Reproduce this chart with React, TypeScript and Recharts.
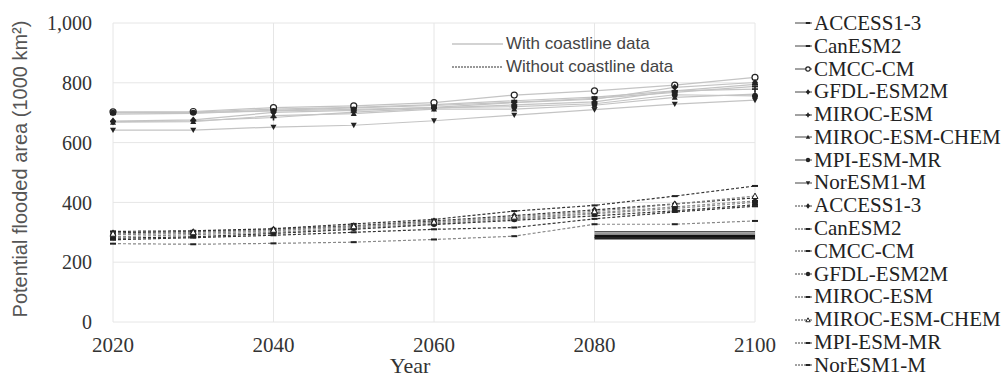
import { LineChart, Line, XAxis, YAxis, CartesianGrid } from 'recharts';

const years = [2020, 2030, 2040, 2050, 2060, 2070, 2080, 2090, 2100];
const models = ['ACCESS1-3', 'CanESM2', 'CMCC-CM', 'GFDL-ESM2M', 'MIROC-ESM', 'MIROC-ESM-CHEM', 'MPI-ESM-MR', 'NorESM1-M'];
const yTicks = [0, 200, 400, 600, 800, 1000];
const xTicks = [2020, 2040, 2060, 2080, 2100];

// with coastline data (solid)
const accessWith = [700, 702, 712, 718, 727, 740, 752, 773, 795];
const canesmWith = [695, 698, 708, 716, 724, 735, 748, 768, 788];
const cmccWith = [703, 704, 717, 723, 734, 759, 773, 792, 818];
const gfdlWith = [672, 676, 701, 708, 718, 734, 745, 785, 801];
const mirocWith = [670, 673, 684, 702, 715, 726, 736, 773, 779];
const mirocChemWith = [668, 670, 690, 697, 712, 712, 725, 751, 762];
const mpiWith = [700, 700, 706, 711, 717, 720, 730, 760, 756];
const norWith = [642, 642, 652, 658, 673, 692, 710, 729, 742];

// without coastline data (dashed)
const accessWithout = [298, 302, 310, 322, 338, 356, 375, 395, 415];
const canesmWithout = [292, 296, 305, 318, 332, 348, 365, 385, 405];
const cmccWithout = [303, 305, 312, 328, 343, 371, 390, 421, 455];
const gfdlWithout = [285, 292, 300, 314, 328, 344, 362, 380, 400];
const mirocWithout = [280, 285, 296, 310, 326, 340, 355, 372, 392];
const mirocChemWithout = [295, 300, 308, 320, 335, 352, 370, 394, 421];
const mpiWithout = [275, 282, 290, 300, 310, 316, 345, 368, 387];
const norWithout = [262, 260, 263, 267, 276, 287, 327, 327, 338];

// stray flat strokes between 2080 and 2100
const band1 = [null, null, null, null, null, null, 302, 302, 302];
const band2 = [null, null, null, null, null, null, 295, 295, 295];
const band3 = [null, null, null, null, null, null, 287, 287, 287];
const band4 = [null, null, null, null, null, null, 280, 280, 280];

const withSeries = [accessWith, canesmWith, cmccWith, gfdlWith, mirocWith, mirocChemWith, mpiWith, norWith];
const withoutSeries = [accessWithout, canesmWithout, cmccWithout, gfdlWithout, mirocWithout, mirocChemWithout, mpiWithout, norWithout];
const bands = [band1, band2, band3, band4];

const withShapes = ['dash', 'dash', 'circleOpen', 'diamond', 'plus', 'triangle', 'circle', 'triangleDown'];
const withoutShapes = ['diamond', 'dash', 'dash', 'circle', 'dash', 'triangleOpen', 'dash', 'dash'];

const bandStyles = [
  { stroke: '#555', width: 1.5 },
  { stroke: '#999', width: 2 },
  { stroke: '#111', width: 3 },
  { stroke: '#222', width: 2.5 },
];

const data = years.map((year, i) => {
  const row: any = { year };
  withSeries.forEach((s, k) => (row['w' + k] = s[i]));
  withoutSeries.forEach((s, k) => (row['n' + k] = s[i]));
  bands.forEach((s, k) => (row['b' + k] = s[i]));
  return row;
});

const DOT = '#222';

function Marker({ shape, x, y, r = 3 }: { shape: string; x: number; y: number; r?: number }) {
  switch (shape) {
    case 'dash':
      return <line x1={x - r} x2={x + r} y1={y} y2={y} stroke={DOT} strokeWidth={2} />;
    case 'circleOpen':
      return <circle cx={x} cy={y} r={r} fill="#fff" stroke={DOT} strokeWidth={1.2} />;
    case 'circle':
      return <circle cx={x} cy={y} r={r} fill={DOT} />;
    case 'diamond':
      return <polygon points={`${x},${y - r - 0.5} ${x + r},${y} ${x},${y + r + 0.5} ${x - r},${y}`} fill={DOT} />;
    case 'plus':
      return (
        <g stroke={DOT} strokeWidth={1.6}>
          <line x1={x - r} x2={x + r} y1={y} y2={y} />
          <line x1={x} x2={x} y1={y - r} y2={y + r} />
        </g>
      );
    case 'triangle':
      return <polygon points={`${x},${y - r} ${x + r},${y + r * 0.8} ${x - r},${y + r * 0.8}`} fill={DOT} />;
    case 'triangleOpen':
      return <polygon points={`${x},${y - r} ${x + r},${y + r * 0.8} ${x - r},${y + r * 0.8}`} fill="#fff" stroke={DOT} strokeWidth={1} />;
    case 'triangleDown':
      return <polygon points={`${x},${y + r} ${x + r},${y - r * 0.8} ${x - r},${y - r * 0.8}`} fill={DOT} />;
    default:
      return null;
  }
}

const makeDot = (shape: string) => (props: any) => {
  const { cx, cy, index, value } = props;
  if (cx == null || cy == null || value == null) return <g key={index} />;
  return (
    <g key={index}>
      <Marker shape={shape} x={cx} y={cy} />
    </g>
  );
};

const serif = '"Liberation Serif", "Times New Roman", serif';
const sans = '"Liberation Sans", Arial, sans-serif';

function LegendIcon({ shape, dashed }: { shape: string; dashed: boolean }) {
  return (
    <svg width={19} height={10} style={{ display: 'block' }}>
      <line x1={0} x2={17} y1={5} y2={5} stroke="#444" strokeWidth={1} strokeDasharray={dashed ? '2 1' : undefined} />
      <Marker shape={shape} x={13} y={5} r={2.2} />
    </svg>
  );
}

const legendItems = [
  ...models.map((m, i) => ({ name: m, shape: withShapes[i], dashed: false })),
  ...models.map((m, i) => ({ name: m, shape: withoutShapes[i], dashed: true })),
];

export default function App() {
  return (
    <div style={{ position: 'absolute', left: 0, top: 0, width: 1007, height: 379, background: '#fff', overflow: 'hidden' }}>
      <LineChart width={780} height={379} data={data} margin={{ top: 23, right: 25, left: 0, bottom: 20 }}>
        <CartesianGrid stroke="#e6e6e6" strokeWidth={1} />
        <XAxis
          dataKey="year"
          type="number"
          domain={[2020, 2100]}
          ticks={xTicks}
          axisLine={false}
          tickLine={false}
          tickSize={6}
          tickMargin={9}
          height={37}
          tick={{ fill: '#333', fontFamily: serif, fontSize: 21 }}
          label={{
            content: () => (
              <text x={410} y={373} textAnchor="middle" fill="#333" fontFamily={serif} fontSize={22}>
                Year
              </text>
            ),
          }}
        />
        <YAxis
          type="number"
          domain={[0, 1000]}
          ticks={yTicks}
          width={113}
          axisLine={false}
          tickLine={false}
          tickSize={6}
          tickMargin={15}
          tickFormatter={(v: number) => v.toLocaleString('en-US')}
          tick={{ fill: '#333', fontFamily: serif, fontSize: 20 }}
          label={{
            content: () => (
              <text
                transform="translate(20,169) rotate(-90)"
                textAnchor="middle"
                dominantBaseline="central"
                fill="#555"
                fontFamily={sans}
                fontSize={20}
              >
                Potential flooded area (1000 km²)
              </text>
            ),
          }}
        />
        {withSeries.map((_, k) => (
          <Line
            key={'w' + k}
            type="linear"
            dataKey={'w' + k}
            stroke="#c4c4c4"
            strokeWidth={1.2}
            dot={makeDot(withShapes[k])}
            activeDot={false}
            isAnimationActive={false}
          />
        ))}
        {withoutSeries.map((_, k) => (
          <Line
            key={'n' + k}
            type="linear"
            dataKey={'n' + k}
            stroke={k % 2 === 0 ? '#333' : '#888'}
            strokeWidth={1.2}
            strokeDasharray="3 2"
            dot={makeDot(withoutShapes[k])}
            activeDot={false}
            isAnimationActive={false}
          />
        ))}
        {bands.map((_, k) => (
          <Line
            key={'b' + k}
            type="linear"
            dataKey={'b' + k}
            stroke={bandStyles[k].stroke}
            strokeWidth={bandStyles[k].width}
            dot={false}
            activeDot={false}
            isAnimationActive={false}
          />
        ))}
      </LineChart>

      {/* inner legend */}
      <div style={{ position: 'absolute', left: 452, top: 32, fontFamily: sans, fontSize: 17, color: '#444' }}>
        <div style={{ display: 'flex', alignItems: 'center', height: 23 }}>
          <svg width={54} height={6}>
            <line x1={0} x2={51} y1={3} y2={3} stroke="#c4c4c4" strokeWidth={1.5} />
          </svg>
          <span>With coastline data</span>
        </div>
        <div style={{ display: 'flex', alignItems: 'center', height: 23 }}>
          <svg width={54} height={6}>
            <line x1={0} x2={51} y1={3} y2={3} stroke="#777" strokeWidth={1.5} strokeDasharray="2 1" />
          </svg>
          <span>Without coastline data</span>
        </div>
      </div>

      {/* model legend */}
      <div style={{ position: 'absolute', left: 795, top: 12, fontFamily: serif, fontSize: 21, color: '#222' }}>
        {legendItems.map((it, i) => (
          <div key={i} style={{ display: 'flex', alignItems: 'center', height: 22.8, whiteSpace: 'nowrap' }}>
            <LegendIcon shape={it.shape} dashed={it.dashed} />
            <span>{it.name}</span>
          </div>
        ))}
      </div>
    </div>
  );
}
